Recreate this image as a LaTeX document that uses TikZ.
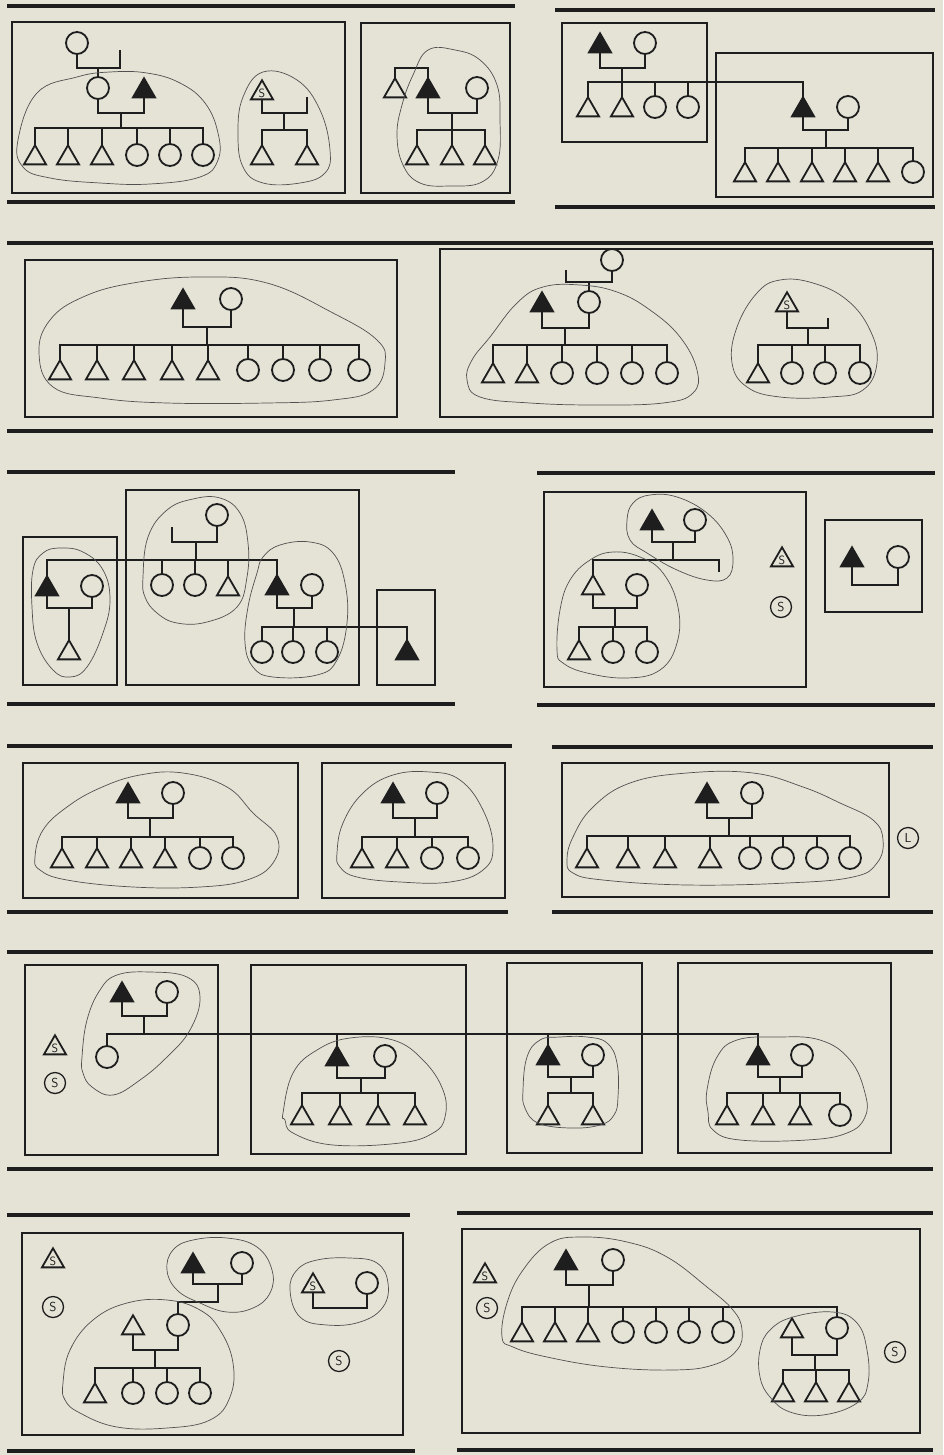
\documentclass[tikz,border=0pt]{standalone}
\usetikzlibrary{shapes.geometric}
\definecolor{paper}{RGB}{229,227,214}
\definecolor{ink}{RGB}{30,30,30}
\definecolor{hullc}{RGB}{80,80,80}
\begin{document}
\begin{tikzpicture}[x=1pt,y=-1pt,
 sym/.style={draw=ink, line width=1.8pt, inner sep=0pt, outer sep=0pt},
 cir/.style={sym, circle, minimum size=22pt},
 tri/.style={sym, regular polygon, regular polygon sides=3, minimum size=25.5pt, yshift=-3pt},
 ftri/.style={tri, fill=ink},
 stri/.style={tri, font=\sffamily\fontsize{12}{12}\selectfont, text=ink},
 scir/.style={sym, circle, minimum size=21pt, line width=1.3pt, font=\sffamily\fontsize{13}{13}\selectfont, text=ink},
 ln/.style={draw=ink, line width=1.9pt},
 frame/.style={draw=ink, line width=1.4pt},
 rulebar/.style={draw=ink, line width=4pt},
 hull/.style={draw=hullc, line width=0.7pt}]
\fill[paper] (0,0) rectangle (943,1455);
\useasboundingbox (0,0) rectangle (943,1455);

%================ ROW 1 ================
\draw[rulebar] (7,6) -- (515,6);
\draw[rulebar] (555,10) -- (935,10);
\draw[rulebar] (7,202) -- (515,202);
\draw[rulebar] (555,207) -- (935,207);
\draw[frame] (12,22) rectangle (345,193);
\draw[frame] (361,23) rectangle (510,193);
\draw[frame] (562,23) rectangle (707,142);
\draw[frame] (716,53) rectangle (933,197);

% A1
\node[cir] (a1g) at (77,43) {};
\node[cir] (a1m) at (98,88) {};
\node[ftri] (a1f) at (144,88) {};
\coordinate (a1u0) at (98,68);
\coordinate (a1gs) at (120,50);
\draw[ln] (a1g.south) |- (a1u0) -| (a1gs);
\draw[ln] (a1u0) -- (a1m.north);
\coordinate (a1u) at (121,113);
\coordinate (a1s) at (121,128);
\draw[ln] (a1m.south) |- (a1u) -| (a1f.south);
\draw[ln] (a1u) -- (a1s);
\node[tri] (a1c1) at (35,155) {};
\node[tri] (a1c2) at (68,155) {};
\node[tri] (a1c3) at (102,155) {};
\node[cir] (a1c4) at (137,155) {};
\node[cir] (a1c5) at (170,155) {};
\node[cir] (a1c6) at (203,155) {};
\draw[ln] (a1c1.north) |- (a1s) -| (a1c6.north);
\foreach \n in {a1c2,a1c3,a1c4,a1c5} \draw[ln] (\n.north) -- (\n.north |- a1s);
\draw[hull] plot[smooth cycle, tension=0.7] coordinates {(18,140) (37,93) (77,77) (110,72) (147,73) (180,83) (205,103) (218,133) (218,160) (200,177) (150,184) (100,183) (50,178) (23,167)};

\node[stri] (a1s1) at (262,90) {S};
\coordinate (a1su) at (284,113);
\coordinate (a1ss) at (307,97);
\coordinate (a1sb) at (284,130);
\draw[ln] (a1s1.south) |- (a1su) -| (a1ss);
\draw[ln] (a1su) -- (a1sb);
\node[tri] (a1d1) at (262,155) {};
\node[tri] (a1d2) at (307,155) {};
\draw[ln] (a1d1.north) |- (a1sb) -| (a1d2.north);
\draw[hull] plot[smooth cycle, tension=0.7] coordinates {(263,72) (297,80) (320,110) (330,150) (325,173) (300,183) (263,183) (243,167) (238,133) (243,97)};

% A2
\node[tri] (a2t) at (395,88) {};
\node[ftri] (a2f) at (428,88) {};
\node[cir] (a2c) at (477,88) {};
\coordinate (a2k) at (411,68);
\draw[ln] (a2t.north) |- (a2k) -| (a2f.north);
\coordinate (a2u) at (452,113);
\coordinate (a2s) at (452,130);
\draw[ln] (a2f.south) |- (a2u) -| (a2c.south);
\draw[ln] (a2u) -- (a2s);
\node[tri] (a2c1) at (417,155) {};
\node[tri] (a2c2) at (452,155) {};
\node[tri] (a2c3) at (485,155) {};
\draw[ln] (a2c1.north) |- (a2s) -| (a2c3.north);
\draw[ln] (a2c2.north) -- (a2c2.north |- a2s);
\draw[hull] plot[smooth cycle, tension=0.7] coordinates {(428,50) (455,50) (480,60) (497,85) (500,120) (498,160) (482,182) (450,186) (420,183) (403,165) (397,135) (402,105) (413,75)};

% A3 / A4
\node[ftri] (a3f) at (600,43) {};
\node[cir] (a3c) at (645,43) {};
\coordinate (a3u) at (622,68);
\coordinate (a3s) at (622,82);
\draw[ln] (a3f.south) |- (a3u) -| (a3c.south);
\draw[ln] (a3u) -- (a3s);
\node[tri] (a3c1) at (588,107) {};
\node[tri] (a3c2) at (622,107) {};
\node[cir] (a3c3) at (655,107) {};
\node[cir] (a3c4) at (688,107) {};
\node[ftri] (a4f) at (803,107) {};
\draw[ln] (a3c1.north) |- (a3s) -| (a4f.north);
\foreach \n in {a3c2,a3c3,a3c4} \draw[ln] (\n.north) -- (\n.north |- a3s);
\node[cir] (a4c) at (848,107) {};
\coordinate (a4u) at (826,130);
\coordinate (a4s) at (826,148);
\draw[ln] (a4f.south) |- (a4u) -| (a4c.south);
\draw[ln] (a4u) -- (a4s);
\node[tri] (a4c1) at (745,172) {};
\node[tri] (a4c2) at (778,172) {};
\node[tri] (a4c3) at (812,172) {};
\node[tri] (a4c4) at (845,172) {};
\node[tri] (a4c5) at (878,172) {};
\node[cir] (a4c6) at (913,172) {};
\draw[ln] (a4c1.north) |- (a4s) -| (a4c6.north);
\foreach \n in {a4c2,a4c3,a4c4,a4c5} \draw[ln] (\n.north) -- (\n.north |- a4s);

%================ ROW 2 ================
\draw[rulebar] (7,243) -- (933,243);
\draw[rulebar] (7,431) -- (933,431);
\draw[frame] (25,260) rectangle (397,417);
\draw[frame] (440,249) rectangle (933,417);

% B1
\node[ftri] (b1f) at (183,299) {};
\node[cir] (b1c) at (231,299) {};
\coordinate (b1u) at (207,327);
\coordinate (b1s) at (207,345);
\draw[ln] (b1f.south) |- (b1u) -| (b1c.south);
\draw[ln] (b1u) -- (b1s);
\node[tri] (b1c1) at (60,370) {};
\node[tri] (b1c2) at (97,370) {};
\node[tri] (b1c3) at (134,370) {};
\node[tri] (b1c4) at (172,370) {};
\node[tri] (b1c5) at (208,370) {};
\node[cir] (b1c6) at (248,370) {};
\node[cir] (b1c7) at (283,370) {};
\node[cir] (b1c8) at (320,370) {};
\node[cir] (b1c9) at (359,370) {};
\draw[ln] (b1c1.north) |- (b1s) -| (b1c9.north);
\foreach \n in {b1c2,b1c3,b1c4,b1c5,b1c6,b1c7,b1c8} \draw[ln] (\n.north) -- (\n.north |- b1s);
\draw[hull] plot[smooth cycle, tension=0.7] coordinates {(39,353) (50,320) (83,297) (133,283) (200,277) (267,283) (333,313) (377,340) (385,363) (373,390) (333,400) (267,403) (167,403) (100,398) (53,387)};

% B2
\node[cir] (b2g) at (612,260) {};
\coordinate (b2gu) at (589,282);
\coordinate (b2gs) at (566,270);
\draw[ln] (b2g.south) |- (b2gu) -| (b2gs);
\node[cir] (b2m) at (589,302) {};
\node[ftri] (b2f) at (542,302) {};
\draw[ln] (b2gu) -- (b2m.north);
\coordinate (b2u) at (565,328);
\coordinate (b2s) at (565,345);
\draw[ln] (b2f.south) |- (b2u) -| (b2m.south);
\draw[ln] (b2u) -- (b2s);
\node[tri] (b2c1) at (493,373) {};
\node[tri] (b2c2) at (527,373) {};
\node[cir] (b2c3) at (562,373) {};
\node[cir] (b2c4) at (597,373) {};
\node[cir] (b2c5) at (632,373) {};
\node[cir] (b2c6) at (667,373) {};
\draw[ln] (b2c1.north) |- (b2s) -| (b2c6.north);
\foreach \n in {b2c2,b2c3,b2c4,b2c5} \draw[ln] (\n.north) -- (\n.north |- b2s);
\draw[hull] plot[smooth cycle, tension=0.7] coordinates {(467,380) (472,360) (490,337) (517,303) (543,287) (580,285) (617,292) (650,310) (680,337) (697,370) (693,393) (663,403) (597,405) (530,403) (480,397)};

\node[stri] (b2s1) at (787,302) {S};
\coordinate (b2su) at (808,328);
\coordinate (b2ss) at (828,318);
\coordinate (b2sb) at (808,345);
\draw[ln] (b2s1.south) |- (b2su) -| (b2ss);
\draw[ln] (b2su) -- (b2sb);
\node[tri] (b2d1) at (758,373) {};
\node[cir] (b2d2) at (792,373) {};
\node[cir] (b2d3) at (825,373) {};
\node[cir] (b2d4) at (860,373) {};
\draw[ln] (b2d1.north) |- (b2sb) -| (b2d4.north);
\foreach \n in {b2d2,b2d3} \draw[ln] (\n.north) -- (\n.north |- b2sb);
\draw[hull] plot[smooth cycle, tension=0.7] coordinates {(780,280) (813,283) (847,300) (870,330) (877,363) (863,390) (830,397) (780,397) (747,387) (732,363) (737,327) (757,293)};

%================ ROW 3 ================
\draw[rulebar] (7,472) -- (455,472);
\draw[rulebar] (537,473) -- (935,473);
\draw[rulebar] (7,704) -- (455,704);
\draw[rulebar] (537,705) -- (935,705);
\draw[frame] (23,537) rectangle (117,685);
\draw[frame] (126,490) rectangle (359,685);
\draw[frame] (377,590) rectangle (435,685);
\draw[frame] (544,492) rectangle (806,687);
\draw[frame] (825,520) rectangle (922,612);

\node[cir] (c2g) at (217,515) {};
\coordinate (c2gu) at (196,542);
\coordinate (c2gs) at (172,527);
\coordinate (c2gb) at (196,560);
\draw[ln] (c2g.south) |- (c2gu) -| (c2gs);
\draw[ln] (c2gu) -- (c2gb);
\node[ftri] (c1f) at (47,586) {};
\node[cir] (c2a) at (162,585) {};
\node[cir] (c2b) at (195,585) {};
\node[tri] (c2c) at (228,586) {};
\node[ftri] (c3f) at (277,585) {};
\draw[ln] (c1f.north) |- (c2gb) -| (c3f.north);
\foreach \n in {c2a,c2b,c2c} \draw[ln] (\n.north) -- (\n.north |- c2gb);
\node[cir] (c1c) at (92,586) {};
\coordinate (c1u) at (69,608);
\draw[ln] (c1f.south) |- (c1u) -| (c1c.south);
\node[tri] (c1k) at (69,650) {};
\draw[ln] (c1u) -- (c1k.north);
\node[cir] (c3c) at (312,585) {};
\coordinate (c3u) at (294,608);
\coordinate (c3s) at (294,627);
\draw[ln] (c3f.south) |- (c3u) -| (c3c.south);
\draw[ln] (c3u) -- (c3s);
\node[cir] (c3a) at (262,652) {};
\node[cir] (c3b) at (293,652) {};
\node[cir] (c3d) at (327,652) {};
\node[ftri] (c5f) at (407,650) {};
\draw[ln] (c3a.north) |- (c3s) -| (c5f.north);
\foreach \n in {c3b,c3d} \draw[ln] (\n.north) -- (\n.north |- c3s);
\draw[hull] plot[smooth cycle, tension=0.7] coordinates {(33,570) (43,553) (60,548) (83,552) (103,570) (110,600) (103,633) (87,667) (70,677) (53,670) (37,643) (32,607)};
\draw[hull] plot[smooth cycle, tension=0.7] coordinates {(143,577) (148,537) (167,510) (193,499) (220,498) (240,513) (248,543) (247,577) (237,607) (207,622) (177,623) (157,613) (145,597)};
\draw[hull] plot[smooth cycle, tension=0.7] coordinates {(263,557) (280,545) (310,542) (333,553) (345,583) (347,623) (337,660) (317,675) (273,677) (253,667) (245,643) (248,607) (257,573)};

% C4
\node[ftri] (c4f) at (652,520) {};
\node[cir] (c4c) at (695,520) {};
\coordinate (c4u) at (673,542);
\coordinate (c4s) at (673,560);
\coordinate (c4e) at (719,572);
\draw[ln] (c4f.south) |- (c4u) -| (c4c.south);
\draw[ln] (c4u) -- (c4s);
\node[tri] (c4t) at (593,585) {};
\node[cir] (c4m) at (637,585) {};
\draw[ln] (c4t.north) |- (c4s) -| (c4e);
\coordinate (c4u2) at (615,608);
\coordinate (c4s2) at (615,627);
\draw[ln] (c4t.south) |- (c4u2) -| (c4m.south);
\draw[ln] (c4u2) -- (c4s2);
\node[tri] (c4a) at (579,650) {};
\node[cir] (c4b) at (613,652) {};
\node[cir] (c4d) at (647,652) {};
\draw[ln] (c4a.north) |- (c4s2) -| (c4d.north);
\draw[ln] (c4b.north) -- (c4b.north |- c4s2);
\node[stri] (c4st) at (782,557) {S};
\node[scir] (c4sc) at (781,607) {S};
\draw[hull] plot[smooth cycle, tension=0.7] coordinates {(627,520) (633,503) (650,495) (677,497) (707,513) (727,537) (733,560) (727,578) (707,580) (677,570) (647,553) (630,540)};
\draw[hull] plot[smooth cycle, tension=0.7] coordinates {(557,650) (560,610) (570,580) (590,560) (613,552) (640,557) (663,573) (678,607) (677,643) (660,670) (627,678) (587,673) (563,663)};

% C5
\node[ftri] (c5a) at (852,557) {};
\node[cir] (c5b) at (898,557) {};
\coordinate (c5u) at (875,585);
\draw[ln] (c5a.south) |- (c5u) -| (c5b.south);

%================ ROW 4 ================
\draw[rulebar] (7,746) -- (512,746);
\draw[rulebar] (552,747) -- (933,747);
\draw[rulebar] (7,912) -- (508,912);
\draw[rulebar] (552,912) -- (933,912);
\draw[frame] (23,763) rectangle (298,898);
\draw[frame] (322,763) rectangle (505,898);
\draw[frame] (562,763) rectangle (889,897);

% D1
\node[ftri] (d1f) at (128,793) {};
\node[cir] (d1c) at (173,793) {};
\coordinate (d1u) at (150,818);
\coordinate (d1s) at (150,837);
\draw[ln] (d1f.south) |- (d1u) -| (d1c.south);
\draw[ln] (d1u) -- (d1s);
\node[tri] (d1c1) at (62,858) {};
\node[tri] (d1c2) at (97,858) {};
\node[tri] (d1c3) at (131,858) {};
\node[tri] (d1c4) at (165,858) {};
\node[cir] (d1c5) at (200,858) {};
\node[cir] (d1c6) at (233,858) {};
\draw[ln] (d1c1.north) |- (d1s) -| (d1c6.north);
\foreach \n in {d1c2,d1c3,d1c4,d1c5} \draw[ln] (\n.north) -- (\n.north |- d1s);
\draw[hull] plot[smooth cycle, tension=0.7] coordinates {(35,857) (43,830) (67,807) (100,788) (140,775) (183,773) (227,787) (253,813) (277,837) (273,863) (247,880) (200,887) (133,887) (67,880) (40,870)};

% D2
\node[ftri] (d2f) at (393,793) {};
\node[cir] (d2c) at (437,793) {};
\coordinate (d2u) at (415,818);
\coordinate (d2s) at (415,837);
\draw[ln] (d2f.south) |- (d2u) -| (d2c.south);
\draw[ln] (d2u) -- (d2s);
\node[tri] (d2c1) at (362,858) {};
\node[tri] (d2c2) at (397,858) {};
\node[cir] (d2c3) at (432,858) {};
\node[cir] (d2c4) at (468,858) {};
\draw[ln] (d2c1.north) |- (d2s) -| (d2c4.north);
\foreach \n in {d2c2,d2c3} \draw[ln] (\n.north) -- (\n.north |- d2s);
\draw[hull] plot[smooth cycle, tension=0.7] coordinates {(337,853) (343,823) (363,793) (393,775) (430,772) (460,780) (483,810) (493,847) (483,870) (450,882) (400,882) (357,877) (340,867)};

% D3
\node[ftri] (d3f) at (707,793) {};
\node[cir] (d3c) at (752,793) {};
\coordinate (d3u) at (729,818);
\coordinate (d3s) at (729,836);
\draw[ln] (d3f.south) |- (d3u) -| (d3c.south);
\draw[ln] (d3u) -- (d3s);
\node[tri] (d3c1) at (587,858) {};
\node[tri] (d3c2) at (628,858) {};
\node[tri] (d3c3) at (665,858) {};
\node[tri] (d3c4) at (710,858) {};
\node[cir] (d3c5) at (750,858) {};
\node[cir] (d3c6) at (783,858) {};
\node[cir] (d3c7) at (817,858) {};
\node[cir] (d3c8) at (850,858) {};
\draw[ln] (d3c1.north) |- (d3s) -| (d3c8.north);
\foreach \n in {d3c2,d3c3,d3c4,d3c5,d3c6,d3c7} \draw[ln] (\n.north) -- (\n.north |- d3s);
\draw[hull] plot[smooth cycle, tension=0.7] coordinates {(567,860) (573,837) (593,807) (630,783) (687,773) (753,773) (803,787) (840,803) (873,820) (883,840) (877,863) (853,877) (787,883) (687,885) (603,880) (573,873)};
\node[scir] (d3l) at (908,838) {L};

%================ ROW 5 ================
\draw[rulebar] (7,952) -- (933,952);
\draw[rulebar] (7,1169) -- (933,1169);
\draw[frame] (25,965) rectangle (218,1155);
\draw[frame] (251,965) rectangle (466,1154);
\draw[frame] (507,963) rectangle (642,1153);
\draw[frame] (678,963) rectangle (891,1153);

\node[ftri] (e1f) at (122,992) {};
\node[cir] (e1c) at (167,992) {};
\coordinate (e1u) at (144,1016);
\coordinate (e1s) at (144,1034);
\draw[ln] (e1f.south) |- (e1u) -| (e1c.south);
\draw[ln] (e1u) -- (e1s);
\node[cir] (e1k) at (107,1057) {};
\node[ftri] (e2f) at (337,1056) {};
\node[ftri] (e3f) at (548,1055) {};
\node[ftri] (e4f) at (758,1055) {};
\draw[ln] (e1k.north) |- (e1s) -| (e4f.north);
\foreach \n in {e2f,e3f} \draw[ln] (\n.north) -- (\n.north |- e1s);
\node[stri] (e1st) at (55,1045) {S};
\node[scir] (e1sc) at (55,1083) {S};
\draw[hull] plot[smooth cycle, tension=0.7] coordinates {(82,1057) (87,1020) (100,990) (117,975) (150,972) (187,977) (200,997) (190,1030) (167,1057) (140,1080) (113,1095) (92,1087) (83,1073)};

% E2
\node[cir] (e2c) at (385,1056) {};
\coordinate (e2u) at (361,1078);
\coordinate (e2s) at (361,1093);
\draw[ln] (e2f.south) |- (e2u) -| (e2c.south);
\draw[ln] (e2u) -- (e2s);
\node[tri] (e2c1) at (302,1115) {};
\node[tri] (e2c2) at (340,1115) {};
\node[tri] (e2c3) at (378,1115) {};
\node[tri] (e2c4) at (415,1115) {};
\draw[ln] (e2c1.north) |- (e2s) -| (e2c4.north);
\foreach \n in {e2c2,e2c3} \draw[ln] (\n.north) -- (\n.north |- e2s);
\draw[hull] plot[smooth cycle, tension=0.7] coordinates {(283,1113) (293,1073) (317,1050) (350,1038) (393,1040) (423,1060) (443,1090) (445,1117) (433,1133) (400,1143) (333,1145) (293,1133) (285,1120)};

% E3
\node[cir] (e3c) at (593,1055) {};
\coordinate (e3u) at (571,1077);
\coordinate (e3s) at (571,1093);
\draw[ln] (e3f.south) |- (e3u) -| (e3c.south);
\draw[ln] (e3u) -- (e3s);
\node[tri] (e3a) at (548,1115) {};
\node[tri] (e3b) at (593,1115) {};
\draw[ln] (e3a.north) |- (e3s) -| (e3b.north);
\draw[hull] plot[smooth cycle, tension=0.7] coordinates {(523,1090) (527,1057) (540,1040) (560,1037) (587,1037) (607,1043) (617,1063) (618,1097) (614,1115) (600,1125) (570,1128) (538,1123) (525,1108)};

% E4
\node[cir] (e4c) at (802,1055) {};
\coordinate (e4u) at (780,1077);
\coordinate (e4s) at (780,1093);
\draw[ln] (e4f.south) |- (e4u) -| (e4c.south);
\draw[ln] (e4u) -- (e4s);
\node[tri] (e4c1) at (727,1115) {};
\node[tri] (e4c2) at (763,1115) {};
\node[tri] (e4c3) at (800,1115) {};
\node[cir] (e4c4) at (840,1115) {};
\draw[ln] (e4c1.north) |- (e4s) -| (e4c4.north);
\foreach \n in {e4c2,e4c3} \draw[ln] (\n.north) -- (\n.north |- e4s);
\draw[hull] plot[smooth cycle, tension=0.7] coordinates {(707,1090) (717,1057) (737,1040) (777,1037) (820,1040) (850,1060) (865,1093) (865,1117) (847,1133) (807,1140) (740,1140) (713,1130) (708,1112)};

%================ ROW 6 ================
\draw[rulebar] (7,1215) -- (410,1215);
\draw[rulebar] (457,1213) -- (933,1213);
\draw[rulebar] (7,1451) -- (415,1451);
\draw[rulebar] (457,1450) -- (933,1450);
\draw[frame] (22,1233) rectangle (403,1435);
\draw[frame] (462,1229) rectangle (920,1433);

% F1
\node[stri] (f1st) at (53,1258) {S};
\node[scir] (f1sc) at (53,1307) {S};
\node[ftri] (f1f) at (193,1263) {};
\node[cir] (f1c) at (242,1263) {};
\coordinate (f1u) at (218,1284);
\coordinate (f1e) at (218,1302);
\draw[ln] (f1f.south) |- (f1u) -| (f1c.south);
\node[tri] (f1t) at (133,1325) {};
\node[cir] (f1m) at (178,1325) {};
\draw[ln] (f1u) -- (f1e) -| (f1m.north);
\coordinate (f1u2) at (155,1350);
\coordinate (f1s) at (155,1368);
\draw[ln] (f1t.south) |- (f1u2) -| (f1m.south);
\draw[ln] (f1u2) -- (f1s);
\node[tri] (f1a) at (95,1393) {};
\node[cir] (f1b) at (133,1393) {};
\node[cir] (f1d) at (167,1393) {};
\node[cir] (f1g) at (200,1393) {};
\draw[ln] (f1a.north) |- (f1s) -| (f1g.north);
\foreach \n in {f1b,f1d} \draw[ln] (\n.north) -- (\n.north |- f1s);
\node[stri] (f1p) at (313,1283) {S};
\node[cir] (f1q) at (367,1283) {};
\coordinate (f1pu) at (340,1308);
\draw[ln] (f1p.south) |- (f1pu) -| (f1q.south);
\node[scir] (f1sc2) at (339,1361) {S};
\draw[hull] plot[smooth cycle, tension=0.7] coordinates {(167,1270) (173,1250) (193,1240) (227,1238) (257,1247) (272,1270) (270,1293) (253,1308) (227,1312) (200,1303) (177,1290)};
\draw[hull] plot[smooth cycle, tension=0.7] coordinates {(63,1383) (70,1350) (93,1320) (127,1303) (167,1300) (200,1310) (220,1330) (233,1363) (230,1397) (210,1420) (167,1428) (117,1427) (80,1413) (65,1400)};
\draw[hull] plot[smooth cycle, tension=0.7] coordinates {(290,1290) (297,1270) (317,1260) (350,1258) (377,1263) (388,1283) (383,1307) (360,1322) (327,1325) (300,1317)};

% F2
\node[stri] (f2st) at (485,1273) {S};
\node[scir] (f2sc) at (487,1308) {S};
\node[ftri] (f2f) at (566,1260) {};
\node[cir] (f2c) at (613,1260) {};
\coordinate (f2u) at (589,1285);
\coordinate (f2s) at (589,1307);
\draw[ln] (f2f.south) |- (f2u) -| (f2c.south);
\draw[ln] (f2u) -- (f2s);
\node[tri] (f2a) at (522,1332) {};
\node[tri] (f2b) at (555,1332) {};
\node[tri] (f2d) at (588,1332) {};
\node[cir] (f2e) at (623,1332) {};
\node[cir] (f2g) at (656,1332) {};
\node[cir] (f2h) at (689,1332) {};
\node[cir] (f2i) at (723,1332) {};
\node[cir] (f2m) at (837,1328) {};
\draw[ln] (f2a.north) |- (f2s) -| (f2m.north);
\foreach \n in {f2b,f2d,f2e,f2g,f2h,f2i} \draw[ln] (\n.north) -- (\n.north |- f2s);
\node[tri] (f2t) at (792,1328) {};
\coordinate (f2u2) at (815,1355);
\coordinate (f2s2) at (815,1370);
\draw[ln] (f2t.south) |- (f2u2) -| (f2m.south);
\draw[ln] (f2u2) -- (f2s2);
\node[tri] (f2x) at (783,1392) {};
\node[tri] (f2y) at (816,1392) {};
\node[tri] (f2z) at (849,1392) {};
\draw[ln] (f2x.north) |- (f2s2) -| (f2z.north);
\draw[ln] (f2y.north) -- (f2y.north |- f2s2);
\node[scir] (f2sc2) at (895,1352) {S};
\draw[hull] plot[smooth cycle, tension=0.7] coordinates {(502,1337) (507,1303) (523,1270) (550,1243) (583,1237) (627,1242) (667,1257) (707,1287) (733,1310) (742,1330) (737,1350) (713,1365) (673,1370) (607,1367) (547,1357) (513,1347)};
\draw[hull] plot[smooth cycle, tension=0.7] coordinates {(760,1350) (770,1330) (793,1317) (833,1312) (857,1323) (867,1350) (868,1383) (857,1403) (823,1415) (790,1412) (770,1397) (760,1377)};
\end{tikzpicture}
\end{document}
